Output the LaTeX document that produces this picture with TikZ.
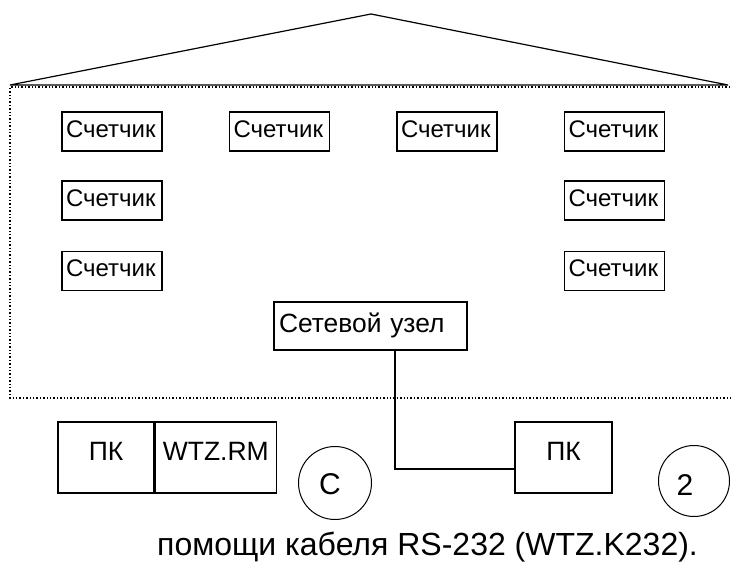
\documentclass[tikz,border=0pt]{standalone}
\usepackage{fontspec}
\setmainfont{Liberation Sans}
\usetikzlibrary{positioning,calc}

\begin{document}
\begin{tikzpicture}[
    x=1pt, y=-1pt,
    counter/.style={rectangle, draw, line width=1.3pt, font=\fontsize{24}{26}\selectfont,
        text width=92pt, inner xsep=4pt, inner ysep=0pt, text height=25pt, text depth=14pt, align=left},
    netbox/.style={rectangle, draw, line width=1.3pt, font=\fontsize{26.4}{28}\selectfont,
        text width=183pt, inner xsep=5pt, inner ysep=0pt, text height=30pt, text depth=18pt, align=left},
    pcbox/.style={rectangle, draw, line width=1.3pt, font=\fontsize{26.5}{28}\selectfont,
        inner ysep=0pt, text height=38pt, text depth=33pt, align=center},
    numcircle/.style={circle, draw, line width=1pt, inner sep=0pt},
    circtext/.style={font=\fontsize{30}{32}\selectfont},
    wire/.style={line width=1.3pt}
]
\useasboundingbox (0,0) rectangle (731,562);

% roof and building outline
\draw[line width=1.2pt] (10,85) -- (371,14) -- (728,85) -- cycle;
\draw[line width=1.4pt, dotted] (730,87) -- (10,87) -- (10,398) -- (731,398);

% meters
\node[counter] (m1) at (112,131.5) {Счетчик};
\node[counter] (m2) at (279.5,131.5) {Счетчик};
\node[counter] (m3) at (447,131.5) {Счетчик};
\node[counter] (m4) at (614.5,131.5) {Счетчик};
\node[counter] (m5) at (112,200.5) {Счетчик};
\node[counter] (m6) at (614.5,200.5) {Счетчик};
\node[counter] (m7) at (112,271) {Счетчик};
\node[counter] (m8) at (614.5,271) {Счетчик};

% network node
\node[netbox] (net) at (370.5,326) {Сетевой узел};

% computers
\node[pcbox, minimum width=96pt] (pc1) at (106,457.5) {ПК};
\node[pcbox, minimum width=121pt, right=0pt of pc1] (rm) {WTZ.RM};
\node[pcbox, minimum width=97pt] (pc2) at (563.5,457.5) {ПК};

% circles
\node[numcircle, minimum size=73pt, label={[circtext, xshift=-5pt, yshift=-1pt]center:C}] (cc) at (335,483) {};
\node[numcircle, minimum size=71pt, label={[circtext, xshift=-9pt, yshift=-4pt]center:2}] (c2) at (694,481) {};

\draw[wire] ([xshift=24.5pt]net.south) |- ([yshift=-11.5pt]pc2.west);

% caption
\node[font=\fontsize{32}{34}\selectfont, anchor=base west, inner sep=0pt] (cap) at (157,555) {помощи кабеля RS-232 (WTZ.K232).};

\end{tikzpicture}
\end{document}
